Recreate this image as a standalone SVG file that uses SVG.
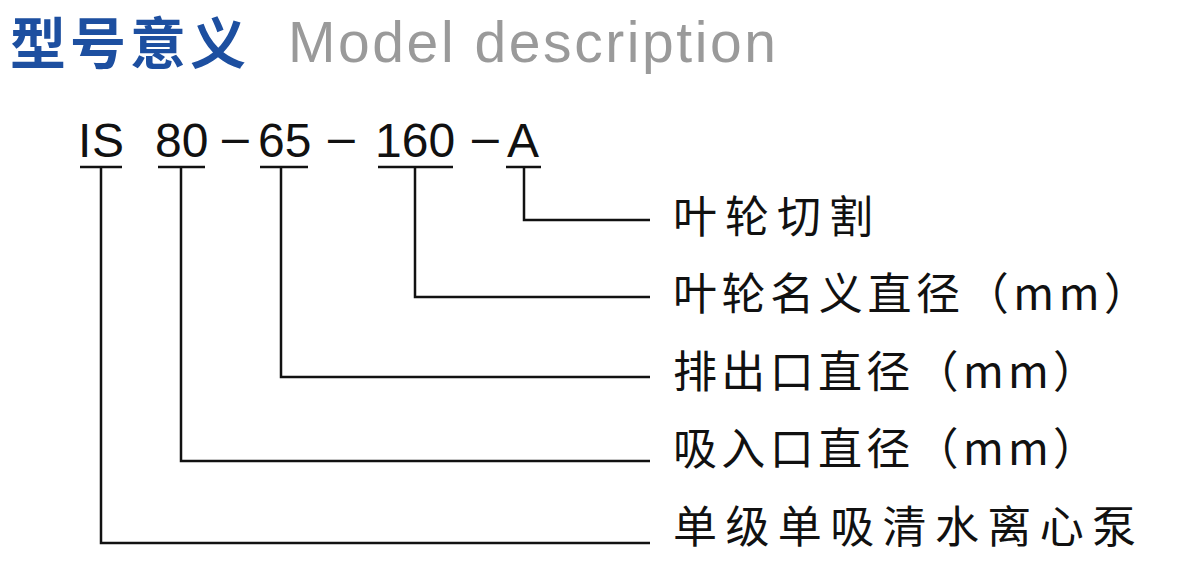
<svg xmlns="http://www.w3.org/2000/svg" width="1200" height="581" viewBox="0 0 1200 581">
<style>
.t{font-family:"Noto Sans CJK SC","Liberation Sans",sans-serif;}
.code{font-family:"Liberation Sans",sans-serif;font-size:48px;fill:#111;}
.lab{font-family:"Noto Sans CJK SC",sans-serif;font-size:44px;fill:#111;}
.ln{stroke:#111;stroke-width:2.5;fill:none;}
</style>
<rect width="1200" height="581" fill="#fff"/>
<g id="title">
<text x="10" y="64" class="t" font-size="56" font-weight="bold" fill="#1d4fa0" textLength="236" lengthAdjust="spacing">型号意义</text>
<text x="288" y="62" font-family="Liberation Sans,sans-serif" font-size="57" fill="#9a9a9a" textLength="488" lengthAdjust="spacing">Model description</text>
</g>
<g id="code">
<text x="78" y="157" class="code" textLength="46">IS</text>
<text x="155" y="157" class="code">80</text>
<text x="222" y="154" class="code">–</text>
<text x="258" y="157" class="code">65</text>
<text x="328" y="154" class="code">–</text>
<text x="375" y="157" class="code">160</text>
<text x="472" y="154" class="code">–</text>
<text x="507" y="157" class="code">A</text>
</g>
<g id="connectors" class="ln">
<path d="M80 167H122M101 167V543H650"/>
<path d="M158 167H205M181 167V461H650"/>
<path d="M260 167H308M281 167V377H650"/>
<path d="M378 167H453M415 167V297H650"/>
<path d="M506 167H541M524 167V220H650"/>
</g>
<g id="n1"><text x="673" y="233" class="lab" textLength="200" lengthAdjust="spacing">叶轮切割</text></g>
<g id="n2"><text x="673" y="310" class="lab" textLength="475" lengthAdjust="spacing">叶轮名义直径（mm）</text></g>
<g id="n3"><text x="673" y="388" class="lab" textLength="424" lengthAdjust="spacing">排出口直径（mm）</text></g>
<g id="n4"><text x="673" y="465" class="lab" textLength="424" lengthAdjust="spacing">吸入口直径（mm）</text></g>
<g id="n5"><text x="673" y="543" class="lab" textLength="463" lengthAdjust="spacing">单级单吸清水离心泵</text></g>
</svg>
